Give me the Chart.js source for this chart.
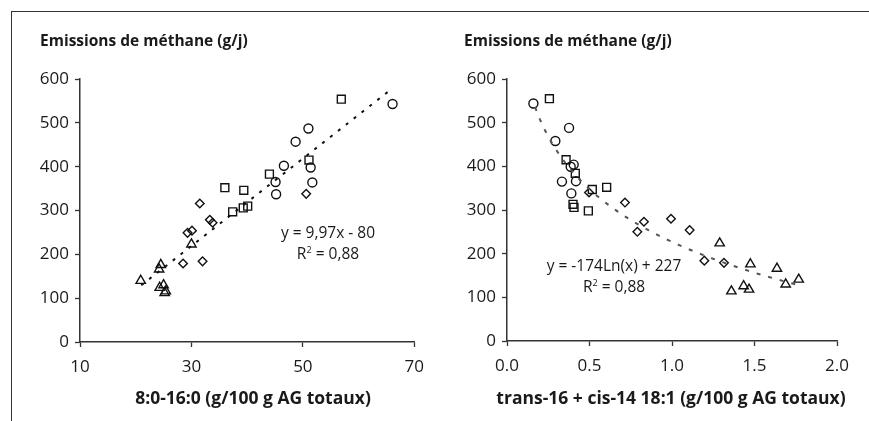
<!DOCTYPE html>
<html lang="fr">
<head>
<meta charset="UTF-8">
<title>Emissions de méthane</title>
<script src="https://cdn.jsdelivr.net/npm/chart.js"></script>
<style>
    body { margin: 0; background: #fff; font-family: "Open Sans", sans-serif; color: #1a1a1a; }
    #page { position: relative; width: 869px; height: 421px; overflow: hidden; }
    .frame-top { position: absolute; left: 11px; top: 11px; width: 858px; height: 0; border-top: 1.5px solid #333; }
    .frame-left { position: absolute; left: 11px; top: 11px; width: 0; height: 410px; border-left: 1.5px solid #333; }
    .panel { position: absolute; top: 0; height: 421px; }
    .txt { position: absolute; white-space: nowrap; }
    .title { font-weight: 700; font-size: 15.5px; line-height: 20px; }
    .axis-title { font-weight: 700; font-size: 17.5px; line-height: 22px; transform: translateX(-50%); }
    .eq { font-size: 15.5px; text-align: center; transform: translateX(-50%); line-height: 18px; }
</style>
</head>
<body>
<div id="page">
    <div class="frame-top"></div>
    <div class="frame-left"></div>

    <div class="panel" style="left:0;width:434px"><canvas id="chartA"></canvas></div>
    <div class="panel" style="left:434px;width:435px"><canvas id="chartB"></canvas></div>

    <div class="txt title" style="left:40px;top:30px">Emissions de méthane (g/j)</div>
    <div class="txt title" style="left:464px;top:30px">Emissions de méthane (g/j)</div>
    <div class="txt axis-title" style="left:253px;top:386px">8:0-16:0 (g/100 g AG totaux)</div>
    <div class="txt axis-title" style="left:671px;top:386px">trans-16 + cis-14 18:1 (g/100 g AG totaux)</div>
    <div class="txt eq" style="left:328px;top:223px">y = 9,97x - 80<br>R<sup style="font-size:9px">2</sup> = 0,88</div>
    <div class="txt eq" style="left:614px;top:256px">y = -174Ln(x) + 227<br>R<sup style="font-size:9px">2</sup> = 0,88</div>
</div>

<script>
// methane emissions (g/d) per group, same animals in both panels
const circleCH4   = [402, 365, 337, 457, 487, 398, 364, 543];
const squareCH4   = [554, 415, 383, 352, 346, 297, 306, 310];
const diamondCH4  = [316, 279, 272, 249, 254, 179, 184, 338];
const triangleCH4 = [140, 166, 176, 124, 130, 116, 112, 223];

// left panel: 8:0-16:0 (g/100 g AG)
const circleSat   = [46.6, 45.1, 45.2, 48.7, 51.0, 51.4, 51.7, 66.1];
const squareSat   = [56.9, 51.1, 44.0, 36.0, 39.4, 37.4, 39.3, 40.1];
const diamondSat  = [31.5, 33.3, 33.8, 29.3, 30.1, 28.5, 32.0, 50.6];
const triangleSat = [20.9, 24.2, 24.5, 24.3, 25.0, 25.4, 25.2, 30.0];

// right panel: trans-16 + cis-14 18:1 (g/100 g AG), y values listed separately
const circleTr    = [0.16, 0.376, 0.293, 0.404, 0.386, 0.333, 0.418, 0.39];
const circleTrY   = [544, 488, 458, 404, 399, 365, 366, 338];
const squareTr    = [0.257, 0.358, 0.414, 0.517, 0.604, 0.40, 0.406, 0.493];
const squareTrY   = [555, 415, 384, 347, 352, 313, 306, 298];
const diamondTr   = [0.497, 0.715, 0.83, 0.79, 0.994, 1.107, 1.196, 1.315];
const diamondTrY  = [340, 317, 273, 250, 280, 254, 184, 179];
const triangleTr  = [1.289, 1.36, 1.434, 1.467, 1.475, 1.636, 1.689, 1.768];
const triangleTrY = [224, 114, 126, 118, 176, 166, 130, 141];

// trend lines as printed on the chart
const linSlope = 9.97, linIntercept = -80, linRange = [21, 65.8];
const logCoef = -174, logIntercept = 227, logRange = [0.17, 1.78];

const yTicks = [0, 100, 200, 300, 400, 500, 600];

function pts(xs, ys) {
    return xs.map((x, i) => ({ x: x, y: ys[i] }));
}

function markers(xs, ys) {
    const common = { borderColor: '#111', backgroundColor: 'rgba(0,0,0,0)', borderWidth: 1.4 };
    return [
        Object.assign({ data: pts(xs[0], ys[0]), pointStyle: 'circle', pointRadius: 4.5 }, common),
        Object.assign({ data: pts(xs[1], ys[1]), pointStyle: 'rect', pointRadius: 5.6 }, common),
        Object.assign({ data: pts(xs[2], ys[2]), pointStyle: 'rectRot', pointRadius: 4.3 }, common),
        Object.assign({ data: pts(xs[3], ys[3]), pointStyle: 'triangle', pointRadius: 5.4 }, common)
    ];
}

function axes(xMin, xMax, xStep, xFmt) {
    const grid = { drawOnChartArea: false, drawTicks: true, tickLength: 5, tickColor: '#333', tickWidth: 1.3 };
    const border = { color: '#333', width: 1.5 };
    const font = { family: '"Open Sans", sans-serif', size: 17 };
    return {
        x: {
            type: 'linear', min: xMin, max: xMax,
            grid: grid, border: border,
            ticks: { stepSize: xStep, color: '#1a1a1a', font: font, padding: 10, maxRotation: 0, callback: xFmt },
            afterFit: s => { s.height = 40; }
        },
        y: {
            type: 'linear', min: 0, max: 600,
            grid: grid, border: border,
            afterBuildTicks: s => { s.ticks = yTicks.map(v => ({ value: v })); },
            ticks: { color: '#1a1a1a', font: font, padding: 6 },
            afterFit: s => { s.width = 60; }
        }
    };
}

function makeChart(id, datasets, scales, padding) {
    const canvas = document.getElementById(id);
    new Chart(canvas, {
        type: 'scatter',
        data: { datasets: datasets },
        options: {
            responsive: true,
            maintainAspectRatio: false,
            animation: false,
            layout: { padding: padding },
            plugins: { legend: { display: false }, tooltip: { enabled: false } },
            scales: scales
        }
    });
}

// left chart: linear trend
const linTrend = {
    type: 'line',
    data: linRange.map(x => ({ x: x, y: linSlope * x + linIntercept })),
    borderColor: '#111', borderWidth: 2, borderDash: [3, 7], pointRadius: 0, fill: false
};
makeChart('chartA',
    [linTrend].concat(markers([circleSat, squareSat, diamondSat, triangleSat],
                              [circleCH4, squareCH4, diamondCH4, triangleCH4])),
    axes(10, 70, 20, v => v),
    { left: 20, right: 7, top: 79, bottom: 39 });

// right chart: logarithmic trend
const logPts = [];
for (let x = logRange[0]; x <= logRange[1] + 1e-9; x += 0.03) {
    logPts.push({ x: x, y: logCoef * Math.log(x) + logIntercept });
}
const logTrend = {
    type: 'line', data: logPts,
    borderColor: '#555', borderWidth: 2, borderDash: [4, 8], pointRadius: 0, fill: false, tension: 0
};
makeChart('chartB',
    [logTrend].concat(markers([circleTr, squareTr, diamondTr, triangleTr],
                              [circleTrY, squareTrY, diamondTrY, triangleTrY])),
    axes(0, 2, 0.5, v => v.toFixed(1)),
    { left: 13, right: 32, top: 79, bottom: 40 });
</script>
</body>
</html>
